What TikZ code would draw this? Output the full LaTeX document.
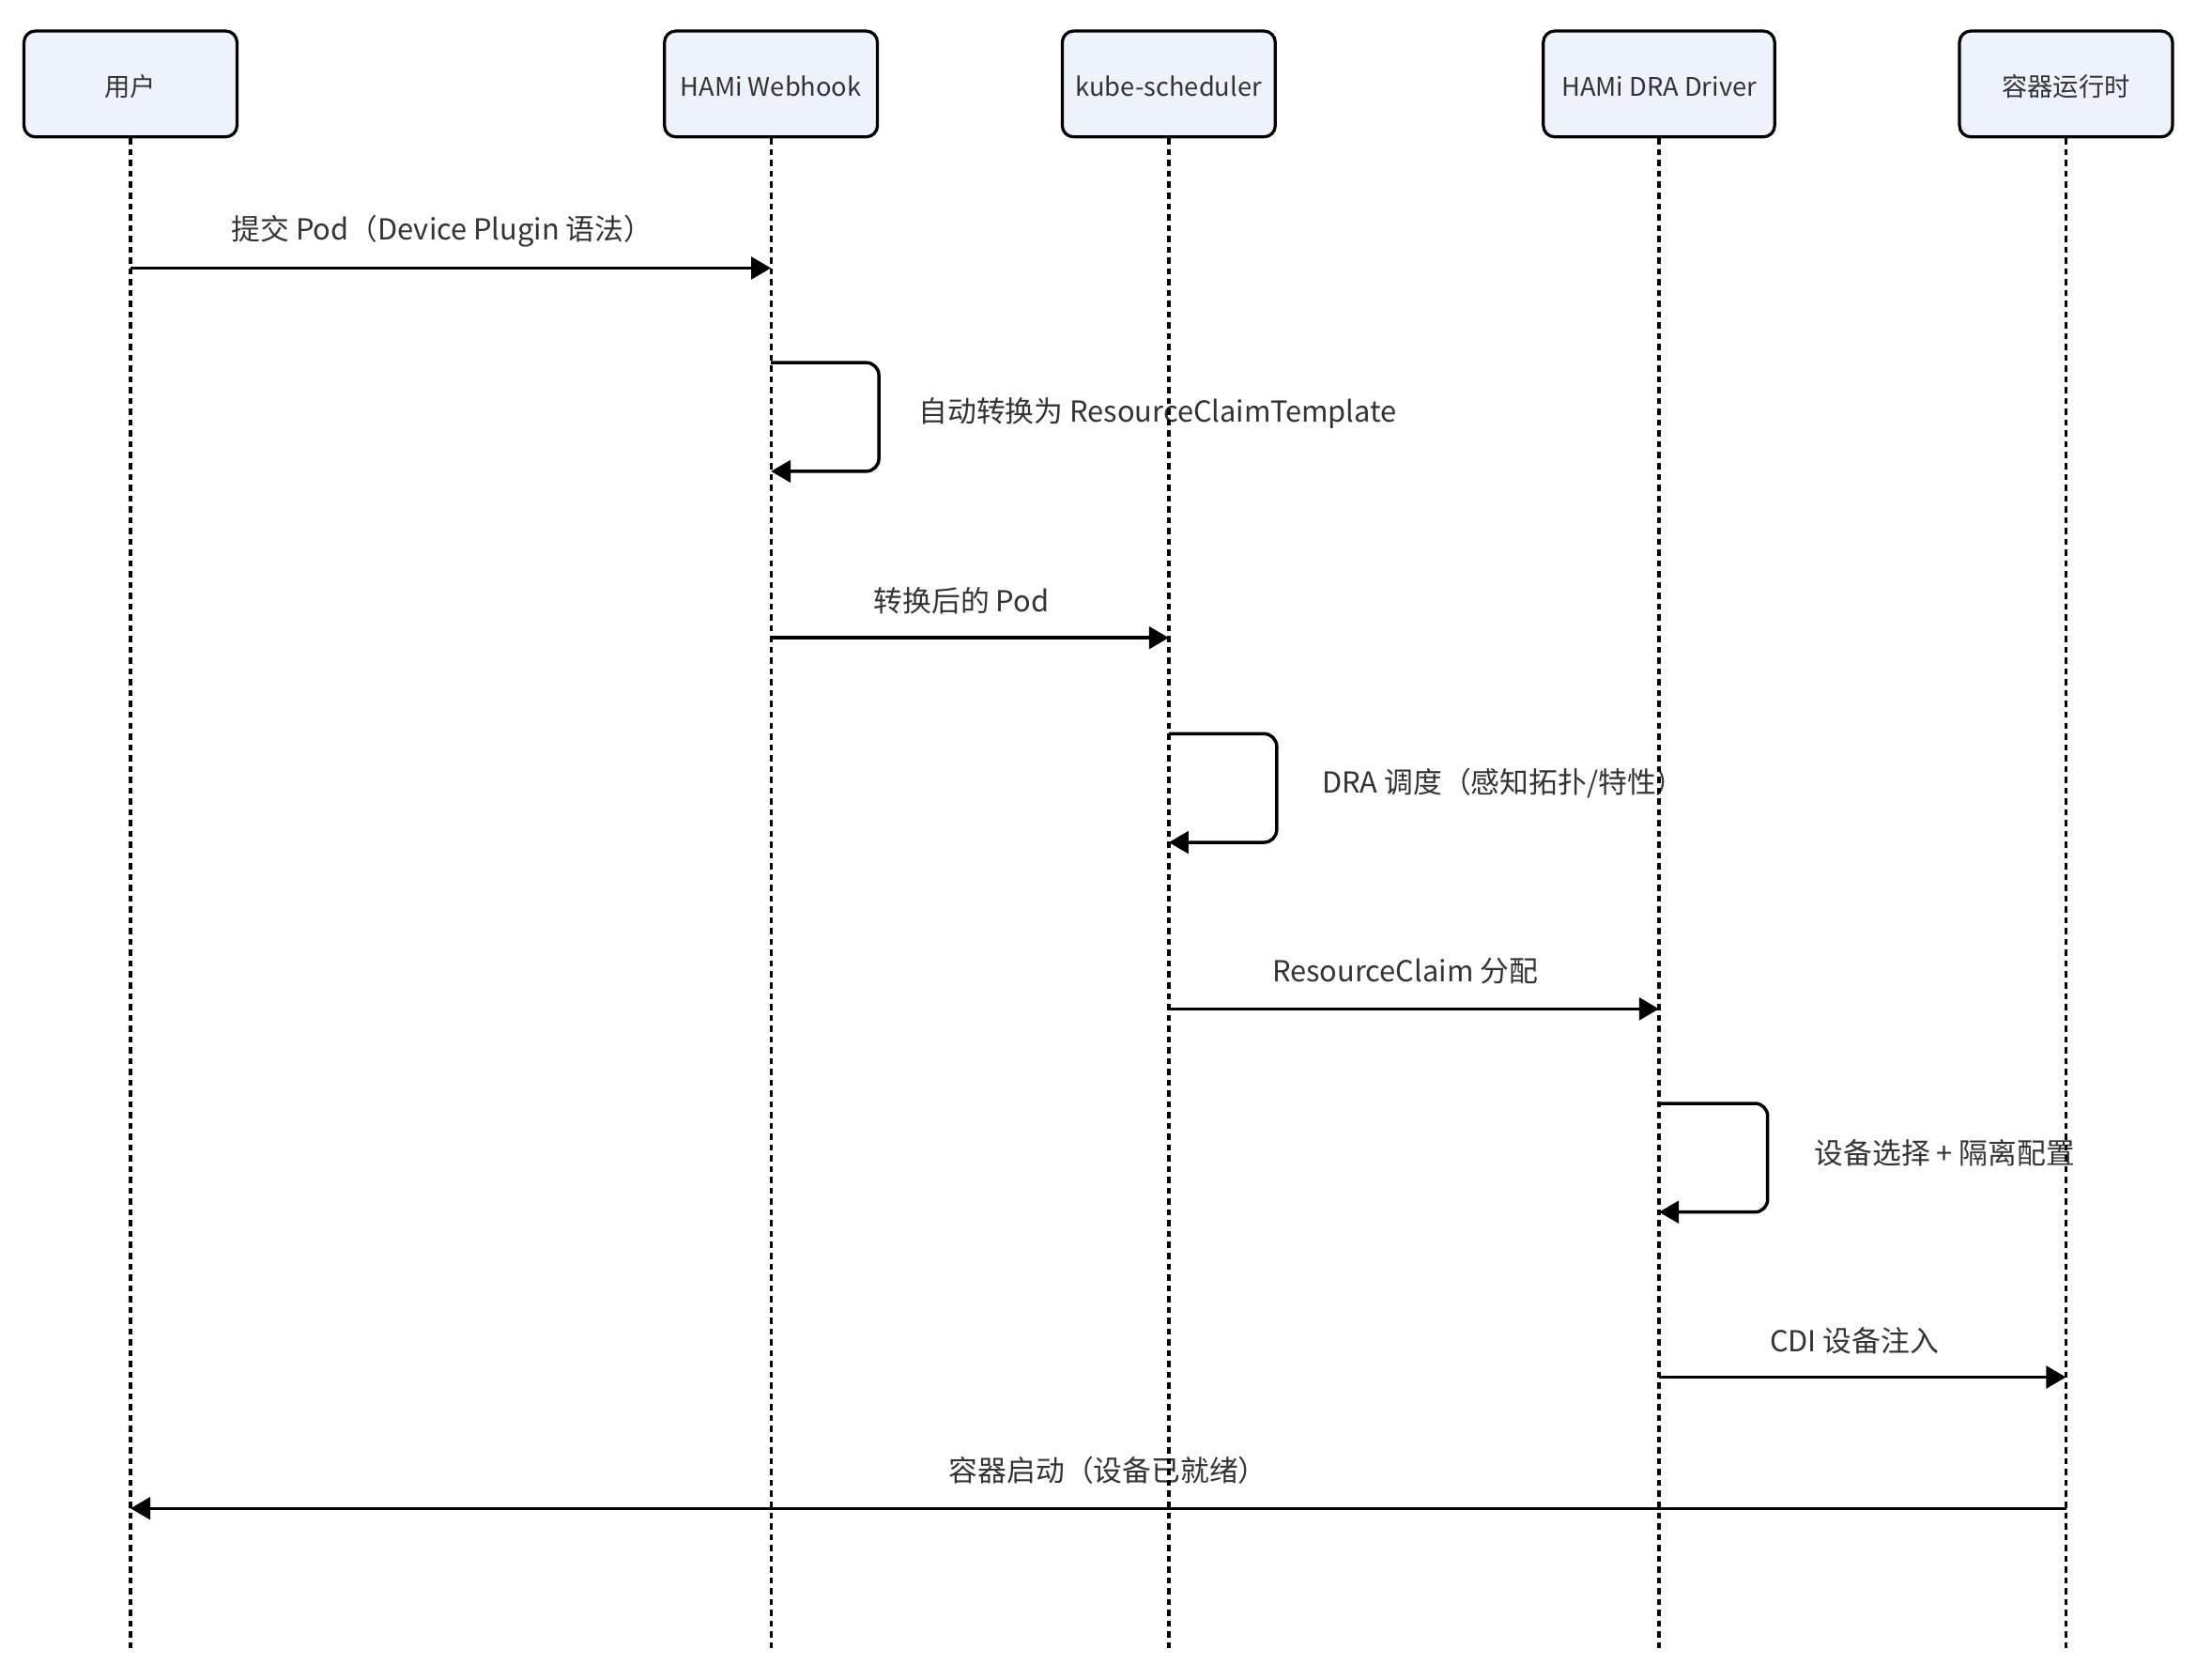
\documentclass[tikz,border=0pt]{standalone}
\usepackage{fontspec}
\setmainfont{Noto Sans CJK SC}
\usetikzlibrary{arrows.meta}
\definecolor{boxfill}{RGB}{238,243,251}
\definecolor{txt}{RGB}{51,51,51}
\newcommand{\actortext}[1]{\raisebox{-0.26cm}[0pt][0pt]{#1}}
\tikzset{
  actor/.style={draw=black, line width=0.065cm, fill=boxfill, rounded corners=0.24cm,
    minimum width=4.53cm, minimum height=2.25cm, text=txt, inner sep=0pt,
    font=\fontsize{15.5}{18}\selectfont},
  life/.style={draw=black, line width=0.065cm, dash pattern=on 0.13cm off 0.1cm},
  msg/.style={draw=black, line width=0.07cm, -{Triangle[length=0.42cm,width=0.47cm]}},
  loopmsg/.style={msg, rounded corners=0.27cm},
  lbl/.style={text=txt, inner sep=0pt, font=\fontsize{17.5}{21}\selectfont},
}
\begin{document}
\begin{tikzpicture}[x=0.03cm,y=-0.03cm]
\useasboundingbox[fill=white] (0,0) rectangle (1568,1190);
% actors
\node[actor] (u) at (92.5,59.5) {\actortext{用户}};
\node[actor] (w) at (546.5,59.5) {\actortext{HAMi Webhook}};
\node[actor] (s) at (828.5,59.5) {\actortext{kube-scheduler}};
\node[actor, minimum width=4.92cm] (d) at (1176,59.5) {\actortext{HAMi DRA Driver}};
\node[actor] (r) at (1464.5,59.5) {\actortext{容器运行时}};
% labels
\node[lbl] (t1) at (313.5,164) {提交 Pod（Device Plugin 语法）};
\node[lbl, anchor=west] (t2) at (651,293) {自动转换为 ResourceClaimTemplate};
\node[lbl] (t3) at (681.5,426) {转换后的 Pod};
\node[lbl, anchor=west] (t4) at (937,555) {DRA 调度（感知拓扑/特性）};
\node[lbl] (t5) at (996,688) {ResourceClaim 分配};
\node[lbl, anchor=west] (t6) at (1286,817) {设备选择 + 隔离配置};
\node[lbl] (t7) at (1314.5,950) {CDI 设备注入};
\node[lbl] (t8) at (785.5,1042) {容器启动（设备已就绪）};
% lifeline ends
\coordinate (uE) at (92.5,1170);
\coordinate (wE) at (546.5,1170);
\coordinate (sE) at (828.5,1170);
\coordinate (dE) at (1176,1170);
\coordinate (rE) at (1464.5,1170);
\draw[life] (u.south) -- (uE);
\draw[life] (w.south) -- (wE);
\draw[life] (s.south) -- (sE);
\draw[life] (d.south) -- (dE);
\draw[life] (r.south) -- (rE);
% message 1
\coordinate (m1a) at (92.5,190);
\coordinate (m1b) at (546.5,190);
\draw[msg] (m1a) -- (m1b);
% self loop webhook
\coordinate (l1a) at (546.5,257);
\coordinate (l1c) at (623,257);
\coordinate (l1d) at (623,334);
\coordinate (l1b) at (546.5,334);
\draw[loopmsg] (l1a) -- (l1c) -- (l1d) -- (l1b);
% message 2
\coordinate (m2a) at (546.5,452);
\coordinate (m2b) at (828.5,452);
\draw[msg] (m2a) -- (m2b);
% self loop scheduler
\coordinate (l2a) at (828.5,520);
\coordinate (l2c) at (905,520);
\coordinate (l2d) at (905,597);
\coordinate (l2b) at (828.5,597);
\draw[loopmsg] (l2a) -- (l2c) -- (l2d) -- (l2b);
% message 3
\coordinate (m3a) at (828.5,715);
\coordinate (m3b) at (1176,715);
\draw[msg] (m3a) -- (m3b);
% self loop driver
\coordinate (l3a) at (1176,782);
\coordinate (l3c) at (1253,782);
\coordinate (l3d) at (1253,859);
\coordinate (l3b) at (1176,859);
\draw[loopmsg] (l3a) -- (l3c) -- (l3d) -- (l3b);
% message 4
\coordinate (m4a) at (1176,976);
\coordinate (m4b) at (1464.5,976);
\draw[msg] (m4a) -- (m4b);
% message 5
\coordinate (m5a) at (1464.5,1069);
\coordinate (m5b) at (92.5,1069);
\draw[msg] (m5a) -- (m5b);
\end{tikzpicture}
\end{document}
